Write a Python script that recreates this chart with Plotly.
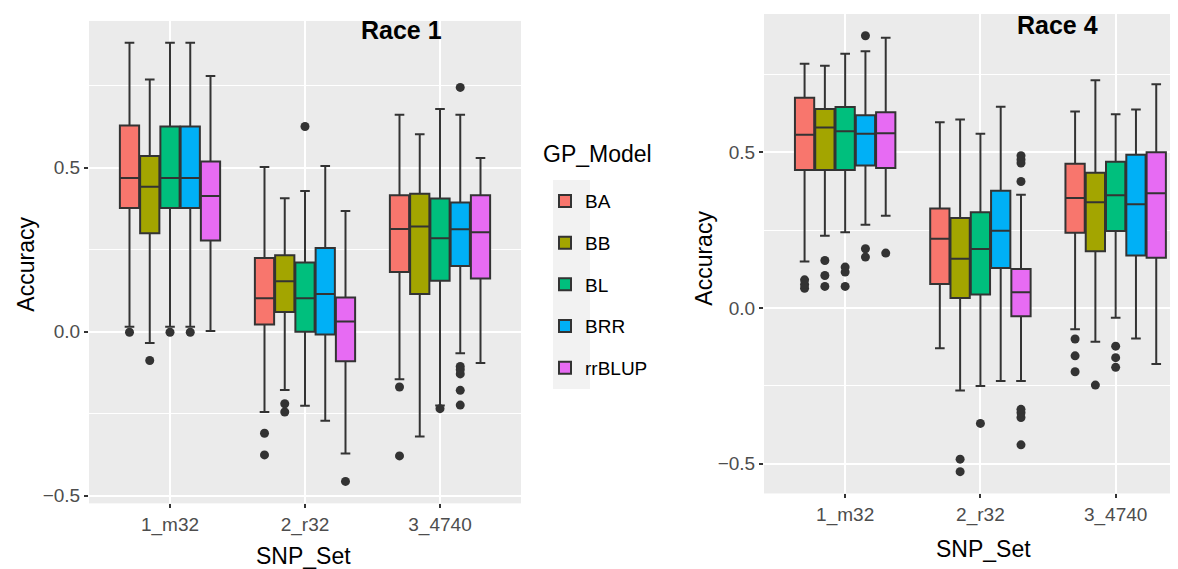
import plotly.graph_objects as go

# categories
snp_sets = ['1_m32', '2_r32', '3_4740']
models = ['BA', 'BB', 'BL', 'BRR', 'rrBLUP']
colors = {'BA': '#F8766D', 'BB': '#A3A500', 'BL': '#00BF7D', 'BRR': '#00B0F6', 'rrBLUP': '#E76BF3'}

# Race 1 box stats, one value per SNP set
r1_lower = {'BA': [0.015, -0.245, -0.145], 'BB': [-0.035, -0.178, -0.320], 'BL': [0.015, -0.226, -0.225],
            'BRR': [0.015, -0.272, -0.066], 'rrBLUP': [0.002, -0.372, -0.096]}
r1_q1 = {'BA': [0.377, 0.022, 0.182], 'BB': [0.300, 0.060, 0.115], 'BL': [0.377, 0.000, 0.155],
         'BRR': [0.377, -0.009, 0.200], 'rrBLUP': [0.278, -0.090, 0.162]}
r1_median = {'BA': [0.469, 0.102, 0.313], 'BB': [0.442, 0.154, 0.321], 'BL': [0.469, 0.102, 0.285],
             'BRR': [0.469, 0.115, 0.312], 'rrBLUP': [0.414, 0.031, 0.303]}
r1_q3 = {'BA': [0.629, 0.225, 0.416], 'BB': [0.536, 0.233, 0.421], 'BL': [0.626, 0.211, 0.406],
         'BRR': [0.626, 0.255, 0.394], 'rrBLUP': [0.519, 0.104, 0.416]}
r1_upper = {'BA': [0.881, 0.502, 0.662], 'BB': [0.769, 0.407, 0.602], 'BL': [0.881, 0.429, 0.679],
            'BRR': [0.881, 0.505, 0.662], 'rrBLUP': [0.780, 0.368, 0.530]}
r1_outliers = {'BA': [[-0.002], [-0.31, -0.376], [-0.169, -0.379]],
               'BB': [[-0.088], [-0.22, -0.245], []],
               'BL': [[-0.002], [0.626], [-0.235]],
               'BRR': [[-0.002], [], [0.745, -0.106, -0.116, -0.129, -0.179, -0.224]],
               'rrBLUP': [[], [-0.457], []]}

# Race 4 box stats
r4_lower = {'BA': [0.149, -0.130, -0.069], 'BB': [0.232, -0.265, -0.109], 'BL': [0.243, -0.251, -0.032],
            'BRR': [0.267, -0.235, -0.098], 'rrBLUP': [0.296, -0.235, -0.180]}
r4_q1 = {'BA': [0.443, 0.077, 0.241], 'BB': [0.443, 0.032, 0.182], 'BL': [0.443, 0.043, 0.247],
         'BRR': [0.457, 0.128, 0.168], 'rrBLUP': [0.449, -0.027, 0.161]}
r4_median = {'BA': [0.556, 0.222, 0.353], 'BB': [0.579, 0.158, 0.339], 'BL': [0.567, 0.189, 0.362],
             'BRR': [0.559, 0.248, 0.333], 'rrBLUP': [0.561, 0.050, 0.368]}
r4_q3 = {'BA': [0.675, 0.319, 0.463], 'BB': [0.639, 0.289, 0.434], 'BL': [0.645, 0.307, 0.469],
         'BRR': [0.619, 0.376, 0.492], 'rrBLUP': [0.628, 0.125, 0.500]}
r4_upper = {'BA': [0.784, 0.596, 0.631], 'BB': [0.778, 0.605, 0.731], 'BL': [0.816, 0.559, 0.622],
            'BRR': [0.824, 0.646, 0.637], 'rrBLUP': [0.868, 0.363, 0.718]}
r4_outliers = {'BA': [[0.090, 0.075, 0.063], [], [-0.100, -0.154, -0.205]],
               'BB': [[0.152, 0.104, 0.069], [-0.486, -0.526], [-0.248]],
               'BL': [[0.131, 0.115, 0.069], [-0.371], [-0.123, -0.160, -0.191]],
               'BRR': [[0.874, 0.190, 0.163], [], []],
               'rrBLUP': [[0.176], [0.489, 0.476, 0.465, 0.406, -0.326, -0.337, -0.352, -0.44], []]}

W, H = 1178, 569
FONT = 'Liberation Sans, Arial, sans-serif'


def px(x):
    return x / W


def py(y):
    return 1 - y / H


def yrange(lower, upper, outliers):
    vals = [v for m in models for v in lower[m] + upper[m]]
    vals += [v for m in models for grp in outliers[m] for v in grp]
    lo, hi = min(vals), max(vals)
    pad = 0.05 * (hi - lo)
    return [lo - pad, hi + pad]


fig = go.Figure()

panels = [
    ('x', 'y', r1_lower, r1_q1, r1_median, r1_q3, r1_upper, r1_outliers, True),
    ('x2', 'y2', r4_lower, r4_q1, r4_median, r4_q3, r4_upper, r4_outliers, False),
]
for xa, ya, lower, q1, med, q3, upper, outl, show in panels:
    for m in models:
        # plotly.js drops a box trace whose first sample row is empty, so pad empty rows with a null
        samples = [grp if grp else [None] for grp in outl[m]]
        fig.add_trace(go.Box(
            x=snp_sets, y=samples,
            q1=q1[m], median=med[m], q3=q3[m], lowerfence=lower[m], upperfence=upper[m],
            name=m, legendgroup=m, showlegend=show,
            alignmentgroup=xa, offsetgroup=m,
            fillcolor=colors[m], line=dict(color='#333333', width=2),
            boxpoints='outliers', pointpos=0, jitter=0,
            marker=dict(color='#333333', size=9, line=dict(width=0)),
            xaxis=xa, yaxis=ya, hoverinfo='skip',
        ))

tickfont = dict(family=FONT, size=19, color='#4D4D4D')
xcommon = dict(type='category', showgrid=True, gridcolor='white', gridwidth=2, ticks='outside',
               ticklen=4, tickwidth=2, tickcolor='#333333', tickfont=tickfont, zeroline=False,
               showline=False)
ycommon = dict(showgrid=True, gridcolor='white', gridwidth=2, dtick=0.5, tick0=0, ticks='outside',
               ticklen=4, tickwidth=2, tickcolor='#333333', tickfont=tickfont, zeroline=False,
               tickformat='.1f', showline=False,
               minor=dict(dtick=0.25, tick0=0, showgrid=True, gridcolor='white', gridwidth=1, ticks=''))

fig.update_layout(
    width=W, height=H,
    margin=dict(l=0, r=0, t=0, b=0),
    paper_bgcolor='white', plot_bgcolor='#EBEBEB',
    boxmode='group', boxgap=0.25, boxgroupgap=0.05,
    font=dict(family=FONT, color='black'),
    xaxis=dict(domain=[px(81), px(513)], range=[-0.6, 2.6], anchor='y', **xcommon),
    yaxis=dict(domain=[py(498), py(13)], range=yrange(r1_lower, r1_upper, r1_outliers), anchor='x', **ycommon),
    xaxis2=dict(domain=[px(756), 1.0], range=[-0.6, 2.52], anchor='y2', **xcommon),
    yaxis2=dict(domain=[py(488), py(6)], range=yrange(r4_lower, r4_upper, r4_outliers), anchor='x2', **ycommon),
    legend=dict(x=px(537), y=py(175), xanchor='left', yanchor='top',
                font=dict(size=19, family=FONT), tracegroupgap=14, bgcolor='rgba(0,0,0,0)'),
    showlegend=True,
    shapes=[dict(type='rect', xref='paper', yref='paper', x0=px(545), x1=px(582), y0=py(383), y1=py(173),
                 fillcolor='#F2F2F2', line=dict(width=0), layer='below')],
)

annotations = [
    dict(text='<b>Race 1</b>', x=px(393), y=py(22), font=dict(size=25)),
    dict(text='<b>Race 4</b>', x=px(1049), y=py(17), font=dict(size=25)),
    dict(text='Accuracy', x=px(18), y=py(258), textangle=-90, font=dict(size=23)),
    dict(text='Accuracy', x=px(696), y=py(252), textangle=-90, font=dict(size=23)),
    dict(text='SNP_Set', x=px(295), y=py(551), font=dict(size=23)),
    dict(text='SNP_Set', x=px(975), y=py(544), font=dict(size=23)),
    dict(text='GP_Model', x=px(533), y=py(147), xanchor='left', font=dict(size=23)),
]
for a in annotations:
    a.setdefault('xanchor', 'center')
    a.update(xref='paper', yref='paper', showarrow=False, yanchor='middle')
    a['font'] = dict(family=FONT, color='black', **a['font'])
fig.update_layout(annotations=annotations)

fig.write_html('out.html')
